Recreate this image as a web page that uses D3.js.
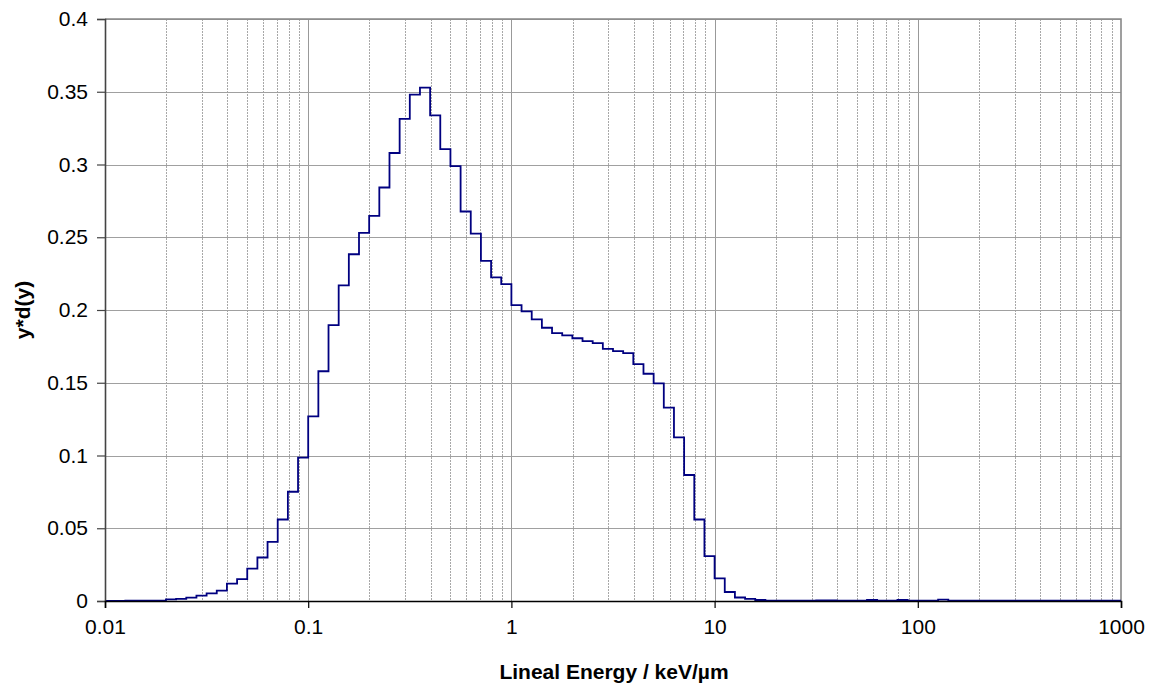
<!DOCTYPE html>
<html>
<head>
<meta charset="utf-8">
<script src="https://cdn.jsdelivr.net/npm/d3@7/dist/d3.min.js"></script>
<style>
  html, body { margin: 0; padding: 0; background: #fff; }
  svg { display: block; font-family: "Liberation Sans", Arial, sans-serif; }
</style>
</head>
<body>
<svg id="chart" width="1155" height="684"></svg>
<script>
// Microdosimetric spectrum y*d(y), log-spaced bins (20 per decade) from 0.01 to 1000 keV/µm
const binStart = 0.01;
const binsPerDecade = 20;

// y*d(y) value of each bin, lowest lineal energy first
const yd = [
  0.0001, 0.0001, 0.0002, 0.0002, 0.0003, 0.0003, 0.0011, 0.0015, 0.0023, 0.0037,
  0.0053, 0.0071, 0.0119, 0.0151, 0.0223, 0.0299, 0.0406, 0.0560, 0.0751, 0.0985,
  0.1269, 0.1579, 0.1896, 0.2169, 0.2383, 0.2530, 0.2647, 0.2842, 0.3079, 0.3313,
  0.3480, 0.3528, 0.3338, 0.3106, 0.2989, 0.2677, 0.2525, 0.2337, 0.2224, 0.2178,
  0.2034, 0.1990, 0.1935, 0.1878, 0.1841, 0.1825, 0.1806, 0.1786, 0.1772, 0.1733,
  0.1717, 0.1703, 0.1628, 0.1562, 0.1496, 0.1329, 0.1125, 0.0866, 0.0560, 0.0308,
  0.0156, 0.0062, 0.0024, 0.0014, 0.0007, 0.0003, 0.0002, 0.0002, 0.0002, 0.0003,
  0.0004, 0.0004, 0.0002, 0.0002, 0.0002, 0.0007, 0.0002, 0.0002, 0.0007, 0.0002,
  0.0002, 0.0002, 0.0009, 0.0002, 0.0002, 0.0002, 0.0002, 0.0002, 0.0002, 0.0002,
  0.0002, 0.0002, 0.0002, 0.0002, 0.0002, 0.0002, 0.0002, 0.0002, 0.0002, 0.0002
];

const xTicks = [0.01, 0.1, 1, 10, 100, 1000];
const xTickLabels = ["0.01", "0.1", "1", "10", "100", "1000"];
const yTicks = [0, 0.05, 0.1, 0.15, 0.2, 0.25, 0.3, 0.35, 0.4];
const yTickLabels = ["0", "0.05", "0.1", "0.15", "0.2", "0.25", "0.3", "0.35", "0.4"];
const xTitle = "Lineal Energy / keV/µm";
const yTitle = "y*d(y)";

const plot = { left: 105, right: 1121, top: 19, bottom: 601 };

const svg = d3.select("#chart");
svg.append("rect").attr("width", 1155).attr("height", 684).attr("fill", "#fff");

const x = d3.scaleLog().domain([0.01, 1000]).range([plot.left, plot.right]);
const y = d3.scaleLinear().domain([0, 0.4]).range([plot.bottom, plot.top]);

// bin edges
const edges = d3.range(yd.length + 1).map(k => binStart * Math.pow(10, k / binsPerDecade));

// minor vertical grid (2..9 of each decade), dotted
const minor = [];
for (let e = -2; e < 3; e++) {
  for (let m = 2; m <= 9; m++) minor.push(m * Math.pow(10, e));
}
const grid = svg.append("g");
grid.selectAll("line.minor").data(minor).join("line")
  .attr("class", "minor")
  .attr("x1", d => Math.round(x(d)) + 0.5).attr("x2", d => Math.round(x(d)) + 0.5)
  .attr("y1", plot.top).attr("y2", plot.bottom)
  .attr("stroke", "#a8a8a8").attr("stroke-width", 1).attr("stroke-dasharray", "2,1");

// major vertical grid at decades
grid.selectAll("line.vmajor").data(xTicks.slice(1, -1)).join("line")
  .attr("class", "vmajor")
  .attr("x1", d => Math.round(x(d)) + 0.5).attr("x2", d => Math.round(x(d)) + 0.5)
  .attr("y1", plot.top).attr("y2", plot.bottom)
  .attr("stroke", "#999").attr("stroke-width", 1);

// horizontal grid
grid.selectAll("line.hmajor").data(yTicks.slice(1)).join("line")
  .attr("class", "hmajor")
  .attr("x1", plot.left).attr("x2", plot.right)
  .attr("y1", d => Math.round(y(d)) + 0.5).attr("y2", d => Math.round(y(d)) + 0.5)
  .attr("stroke", "#a0a0a0").attr("stroke-width", 1);

// top and right frame
svg.append("path")
  .attr("d", `M${plot.left},${plot.top}H${plot.right}V${plot.bottom}`)
  .attr("fill", "none").attr("stroke", "#888").attr("stroke-width", 1.6);

// step histogram
const pts = yd.map((v, i) => [edges[i], v]);
pts.push([edges[yd.length], yd[yd.length - 1]]);
const line = d3.line().x(d => x(d[0])).y(d => y(d[1])).curve(d3.curveStepAfter);
svg.append("path")
  .datum(pts)
  .attr("d", line)
  .attr("fill", "none")
  .attr("stroke", "#000080")
  .attr("stroke-width", 1.8);

// y axis
const yAxis = d3.axisLeft(y).tickValues(yTicks).tickFormat((d, i) => yTickLabels[i]).tickSize(8).tickPadding(9);
const gy = svg.append("g").attr("transform", `translate(${plot.left},0)`).call(yAxis);
gy.select(".domain").attr("stroke", "#444").attr("stroke-width", 1.6);
gy.selectAll(".tick line").attr("stroke", "#444").attr("stroke-width", 1.2);
gy.selectAll("text").attr("font-size", 21).attr("fill", "#000")
  .attr("font-family", "'Liberation Sans', Arial, sans-serif");

// x axis
const xAxis = d3.axisBottom(x).tickValues(xTicks).tickFormat((d, i) => xTickLabels[i]).tickSize(7).tickPadding(11);
const gx = svg.append("g").attr("transform", `translate(0,${plot.bottom})`).call(xAxis);
gx.select(".domain").attr("stroke", "#000").attr("stroke-width", 1.6);
gx.selectAll(".tick line").attr("stroke", "#000").attr("stroke-width", 1.2);
gx.selectAll("text").attr("font-size", 21).attr("fill", "#000")
  .attr("font-family", "'Liberation Sans', Arial, sans-serif");

// axis titles
svg.append("text")
  .attr("x", 614).attr("y", 679)
  .attr("text-anchor", "middle")
  .attr("font-size", 21).attr("font-weight", "bold")
  .text(xTitle);

svg.append("text")
  .attr("transform", `translate(30,${(plot.top + plot.bottom) / 2}) rotate(-90)`)
  .attr("text-anchor", "middle")
  .attr("font-size", 21).attr("font-weight", "bold")
  .text(yTitle);
</script>
</body>
</html>
